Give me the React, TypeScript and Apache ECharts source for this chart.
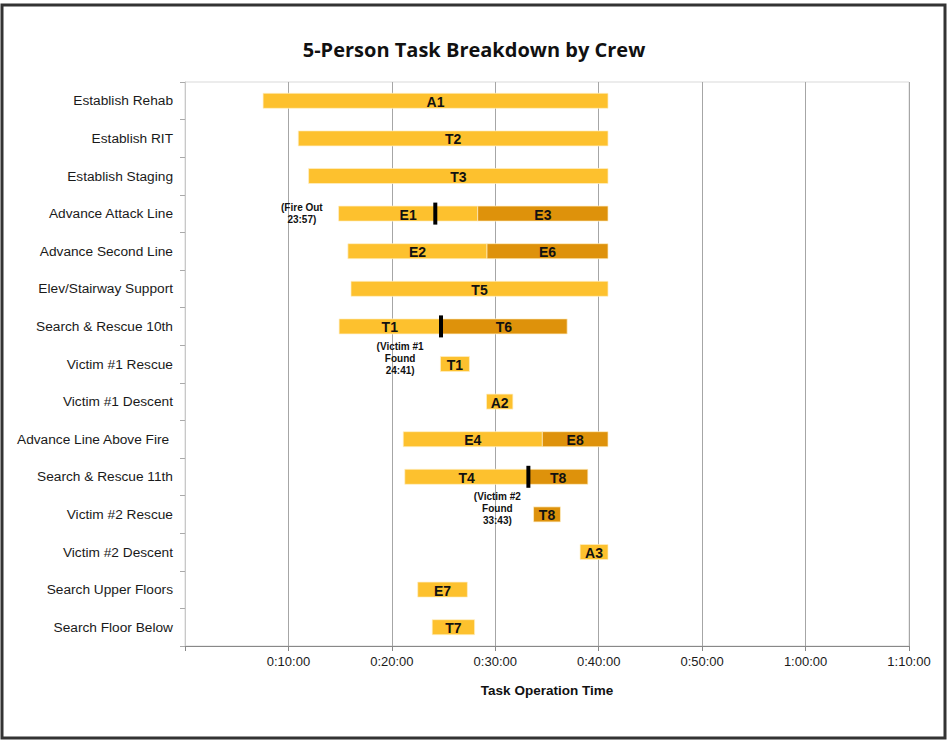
import React, { useEffect, useRef } from "react";
import * as echarts from "echarts";

const categories = [
  "Establish Rehab",
  "Establish RIT",
  "Establish Staging",
  "Advance Attack Line",
  "Advance Second Line",
  "Elev/Stairway Support",
  "Search & Rescue 10th",
  "Victim #1 Rescue",
  "Victim #1 Descent",
  "Advance Line Above Fire ",
  "Search & Rescue 11th",
  "Victim #2 Rescue",
  "Victim #2 Descent",
  "Search Upper Floors",
  "Search Floor Below",
];

// task segments (minutes)
const taskRows = [0, 1, 2, 3, 3, 4, 4, 5, 6, 6, 7, 8, 9, 9, 10, 10, 11, 12, 13, 14];
const taskStarts = [7.55, 10.95, 11.95, 14.85, 28.3, 15.75, 29.2, 16.05, 14.9, 24.7, 24.7, 29.15, 21.1, 34.55, 21.25, 33.2, 33.7, 38.2, 22.5, 23.9];
const taskEnds = [40.9, 40.9, 40.9, 28.3, 40.9, 29.2, 40.9, 40.9, 24.7, 36.95, 27.5, 31.7, 34.55, 40.9, 33.2, 38.95, 36.3, 40.9, 27.3, 28.0];
const taskLabels = ["A1", "T2", "T3", "E1", "E3", "E2", "E6", "T5", "T1", "T6", "T1", "A2", "E4", "E8", "T4", "T8", "T8", "A3", "E7", "T7"];
const taskPhase = [0, 0, 0, 0, 1, 0, 1, 0, 0, 1, 0, 0, 0, 1, 0, 1, 1, 0, 0, 0];

// event markers
const markerRows = [3, 6, 10];
const markerTimes = [24.2, 24.75, 33.2];

// annotations
const noteRows = [3, 6, 10];
const noteTimes = [11.3, 20.8, 30.2];
const noteTexts = ["(Fire Out\n23:57)", "(Victim #1\nFound\n24:41)", "(Victim #2\nFound\n33:43)"];

const xTicks = [0, 10, 20, 30, 40, 50, 60, 70];

const PHASE_COLORS = ["#FDC12E", "#DE920B"];
const SANS = "'Liberation Sans', Arial, sans-serif";

function fmt(m: number) {
  if (m === 0) return "";
  const h = Math.floor(m / 60);
  const mm = m % 60;
  return `${h}:${String(mm).padStart(2, "0")}:00`;
}

export default function App() {
  const ref = useRef<HTMLDivElement>(null);
  useEffect(() => {
    if (!ref.current) return;
    const chart = echarts.init(ref.current, null, { renderer: "svg" });
    const taskData = taskRows.map((r, i) => [r, taskStarts[i], taskEnds[i]]);
    const markerData = markerRows.map((r, i) => [r, markerTimes[i]]);
    const noteData = noteRows.map((r, i) => [r, noteTimes[i]]);

    chart.setOption({
      animation: false,
      backgroundColor: "#ffffff",
      title: {
        text: "5-Person Task Breakdown by Crew",
        left: "center",
        top: 34,
        textStyle: { fontFamily: "'Open Sans', 'Noto Sans', sans-serif", fontWeight: "bold", fontSize: 20, color: "#111" },
      },
      graphic: [
        {
          type: "rect",
          shape: { x: 2, y: 5, width: 943, height: 733 },
          style: { fill: "none", stroke: "#333", lineWidth: 3 },
          silent: true,
        },
      ],
      grid: {
        left: 185,
        top: 82,
        width: 724,
        height: 564,
        show: true,
        borderColor: "#d9d9d9",
        borderWidth: 1,
      },
      xAxis: {
        type: "value",
        min: xTicks[0],
        max: xTicks[xTicks.length - 1],
        interval: 10,
        axisLine: { show: true, lineStyle: { color: "#888", width: 1 } },
        axisTick: { show: true, length: 5, lineStyle: { color: "#888" } },
        splitLine: { show: true, lineStyle: { color: "#a6a6a6", width: 1 } },
        axisLabel: { formatter: (v: number) => fmt(v), fontFamily: SANS, fontSize: 13, color: "#1a1a1a", margin: 9 },
        name: "Task Operation Time",
        nameLocation: "middle",
        nameGap: 37,
        nameTextStyle: { fontFamily: SANS, fontSize: 13.5, fontWeight: "bold", color: "#111" },
      },
      yAxis: {
        type: "category",
        data: categories,
        inverse: true,
        axisLine: { show: true, lineStyle: { color: "#c8c8c8" } },
        axisTick: { show: true, length: 5, lineStyle: { color: "#aaa" } },
        axisLabel: { fontFamily: SANS, fontSize: 13.7, color: "#1a1a1a", margin: 12 },
        splitLine: { show: false },
      },
      series: [
        {
          type: "custom",
          name: "tasks",
          data: taskData,
          encode: { x: [1, 2], y: 0 },
          renderItem: (params: any, api: any) => {
            const i = params.dataIndex;
            const row = api.value(0);
            const p1 = api.coord([api.value(1), row]);
            const p2 = api.coord([api.value(2), row]);
            const h = api.size([0, 1])[1] * 0.4;
            return {
              type: "group",
              children: [
                {
                  type: "rect",
                  shape: { x: p1[0], y: p1[1] - h / 2, width: p2[0] - p1[0], height: h },
                  style: { fill: PHASE_COLORS[taskPhase[i]], stroke: "rgba(255,240,200,0.7)", lineWidth: 1 },
                },
                {
                  type: "text",
                  style: {
                    text: taskLabels[i],
                    x: (p1[0] + p2[0]) / 2,
                    y: p1[1] + 1,
                    align: "center",
                    verticalAlign: "middle",
                    font: `bold 14px ${SANS}`,
                    fill: "#111",
                  },
                },
              ],
            };
          },
        },
        {
          type: "custom",
          name: "markers",
          data: markerData,
          encode: { x: 1, y: 0 },
          renderItem: (params: any, api: any) => {
            const p = api.coord([api.value(1), api.value(0)]);
            return {
              type: "rect",
              shape: { x: p[0] - 2, y: p[1] - 11, width: 4, height: 22 },
              style: { fill: "#000" },
            };
          },
        },
        {
          type: "custom",
          name: "notes",
          data: noteData,
          encode: { x: 1, y: 0 },
          renderItem: (params: any, api: any) => {
            const i = params.dataIndex;
            const p = api.coord([api.value(1), api.value(0)]);
            const dy = i === 0 ? 0 : 32;
            return {
              type: "text",
              style: {
                text: noteTexts[i],
                x: p[0],
                y: p[1] + dy,
                align: "center",
                verticalAlign: "middle",
                font: `bold 10px ${SANS}`,
                lineHeight: 12,
                fill: "#111",
              },
            };
          },
        },
      ],
    });
    return () => chart.dispose();
  }, []);

  return (
    <div
      ref={ref}
      style={{ position: "fixed", left: 0, top: 0, width: 948, height: 740, background: "#fff" }}
    />
  );
}
